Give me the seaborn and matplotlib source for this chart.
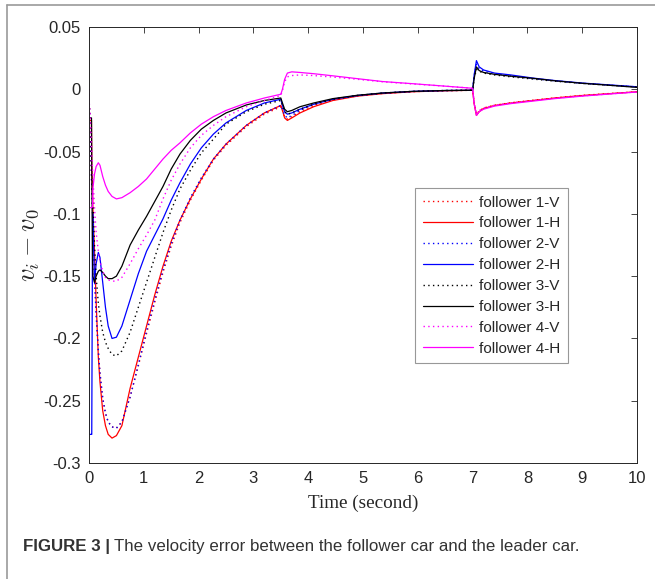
import numpy as np
import pandas as pd
import seaborn as sns
import matplotlib
matplotlib.use("Agg")
import matplotlib.pyplot as plt
from matplotlib.lines import Line2D

# Time grid (s) shared by all followers
time = [0, 0.003, 0.02, 0.045, 0.05, 0.065, 0.07, 0.1, 0.13, 0.17, 0.2, 0.25, 0.3,
        0.35, 0.42, 0.5, 0.6, 0.75, 0.9, 1.05, 1.2, 1.35, 1.5, 1.66, 1.85, 2.05,
        2.27, 2.5, 2.87, 3.2, 3.5, 3.53, 3.57, 3.62, 3.7, 3.85, 4.1, 4.45, 4.9,
        5.36, 5.9, 6.5, 7.0, 7.03, 7.07, 7.12, 7.2, 7.4, 7.7, 8.1, 8.5, 9.0, 9.5, 10]

# Velocity error v_i - v_0 for each follower, vehicle (V) and hybrid (H) models
f1_v = [0, -0.01, -0.03, -0.07, -0.078, -0.1, -0.107, -0.15, -0.18, -0.21, -0.228, -0.248,
        -0.26, -0.267, -0.271, -0.272, -0.267, -0.247, -0.222, -0.196, -0.171, -0.147,
        -0.126, -0.107, -0.089, -0.073, -0.057, -0.045, -0.03, -0.02, -0.014, -0.017,
        -0.022, -0.024, -0.022, -0.018, -0.013, -0.0085, -0.0052, -0.0033, -0.0019,
        -0.0011, -0.0008, -0.011, -0.02, -0.0175, -0.015, -0.0128, -0.0108, -0.0088,
        -0.0069, -0.0049, -0.0034, -0.002]
f1_h = [-0.025, -0.025, -0.025, -0.025, -0.06, -0.085, -0.095, -0.13, -0.17, -0.215,
        -0.235, -0.258, -0.27, -0.277, -0.28, -0.278, -0.27, -0.24, -0.215, -0.19,
        -0.165, -0.142, -0.122, -0.105, -0.088, -0.072, -0.056, -0.044, -0.029, -0.019,
        -0.013, -0.017, -0.023, -0.025, -0.023, -0.019, -0.014, -0.009, -0.0055,
        -0.0035, -0.002, -0.0012, -0.0008, -0.012, -0.021, -0.018, -0.0155, -0.013,
        -0.011, -0.009, -0.007, -0.005, -0.0035, -0.002]
f2_v = [0, -0.01, -0.03, -0.07, -0.078, -0.1, -0.107, -0.15, -0.18, -0.21, -0.228, -0.248,
        -0.26, -0.267, -0.271, -0.272, -0.267, -0.247, -0.221, -0.194, -0.169, -0.145,
        -0.124, -0.105, -0.087, -0.071, -0.056, -0.044, -0.029, -0.019, -0.013, -0.016,
        -0.021, -0.023, -0.021, -0.017, -0.012, -0.008, -0.005, -0.0032, -0.0018,
        -0.001, -0.0008, 0.011, 0.02, 0.0165, 0.0145, 0.0125, 0.0106, 0.0086,
        0.0068, 0.0048, 0.0033, 0.0019]
f2_h = [-0.1, -0.277, -0.277, -0.277, -0.277, -0.1, -0.1, -0.155, -0.14, -0.131, -0.135,
        -0.155, -0.175, -0.19, -0.2, -0.199, -0.19, -0.169, -0.148, -0.13, -0.117,
        -0.104, -0.089, -0.075, -0.06, -0.047, -0.036, -0.027, -0.017, -0.011, -0.008,
        -0.013, -0.018, -0.02, -0.019, -0.016, -0.012, -0.008, -0.005, -0.003,
        -0.0017, -0.001, -0.0008, 0.012, 0.023, 0.018, 0.0155, 0.013, 0.0115, 0.009,
        0.007, 0.005, 0.0035, 0.002]
f3_v = [0, -0.01, -0.025, -0.06, -0.065, -0.085, -0.09, -0.125, -0.15, -0.172, -0.182,
        -0.195, -0.203, -0.208, -0.213, -0.214, -0.21, -0.195, -0.175, -0.155, -0.135,
        -0.115, -0.097, -0.08, -0.065, -0.051, -0.04, -0.028, -0.018, -0.012, -0.009,
        -0.013, -0.018, -0.02, -0.019, -0.016, -0.012, -0.008, -0.005, -0.003,
        -0.0017, -0.001, -0.0008, 0.009, 0.016, 0.0145, 0.013, 0.0115, 0.01, 0.0082,
        0.0065, 0.0047, 0.0032, 0.0018]
f3_h = [-0.023, -0.023, -0.023, -0.023, -0.06, -0.14, -0.15, -0.155, -0.15, -0.146,
        -0.145, -0.147, -0.15, -0.152, -0.152, -0.15, -0.142, -0.125, -0.113, -0.102,
        -0.09, -0.078, -0.064, -0.052, -0.041, -0.032, -0.025, -0.019, -0.0126, -0.009,
        -0.007, -0.011, -0.016, -0.018, -0.017, -0.014, -0.011, -0.0075, -0.0048,
        -0.003, -0.0017, -0.001, -0.0008, 0.009, 0.018, 0.015, 0.0135, 0.012, 0.0105,
        0.0088, 0.0068, 0.0048, 0.0032, 0.0015]
f4_v = [0, -0.01, -0.02, -0.045, -0.05, -0.065, -0.07, -0.095, -0.115, -0.13, -0.138,
        -0.146, -0.151, -0.153, -0.154, -0.154, -0.151, -0.14, -0.128, -0.117, -0.105,
        -0.088, -0.073, -0.06, -0.047, -0.037, -0.029, -0.022, -0.014, -0.009, -0.005,
        -0.001, 0.006, 0.01, 0.011, 0.0115, 0.011, 0.0098, 0.008, 0.006, 0.0043,
        0.0025, 0.0008, -0.011, -0.02, -0.017, -0.015, -0.0128, -0.011, -0.009,
        -0.0072, -0.0053, -0.0037, -0.0021]
f4_h = [0, -0.095, -0.095, -0.095, -0.095, -0.094, -0.08, -0.068, -0.062, -0.059, -0.061,
        -0.07, -0.077, -0.082, -0.086, -0.088, -0.087, -0.083, -0.078, -0.072, -0.064,
        -0.056, -0.049, -0.043, -0.035, -0.028, -0.022, -0.017, -0.011, -0.007, -0.004,
        0.0, 0.008, 0.013, 0.014, 0.0135, 0.0125, 0.0108, 0.0085, 0.0062, 0.0045,
        0.0025, 0.0008, -0.012, -0.021, -0.018, -0.016, -0.0135, -0.0115, -0.0095,
        -0.0075, -0.0055, -0.0038, -0.0022]

labels = ["follower 1-V", "follower 1-H", "follower 2-V", "follower 2-H",
          "follower 3-V", "follower 3-H", "follower 4-V", "follower 4-H"]
series = [f1_v, f1_h, f2_v, f2_h, f3_v, f3_h, f4_v, f4_h]
colors = ["#ff0000", "#ff0000", "#0000ff", "#0000ff",
          "#000000", "#000000", "#ff00ff", "#ff00ff"]

yticks = [-0.3, -0.25, -0.2, -0.15, -0.1, -0.05, 0, 0.05]
ytick_labels = ["-0.3", "-0.25", "-0.2", "-0.15", "-0.1", "-0.05", "0", "0.05"]
xticks = [0, 1, 2, 3, 4, 5, 6, 7, 8, 9, 10]

sns.set_theme(style="white")
plt.rcParams["font.family"] = ["Liberation Sans", "DejaVu Sans"]
plt.rcParams["mathtext.fontset"] = "cm"

fig = plt.figure(figsize=(6.55, 5.79), dpi=100)
ax = fig.add_axes([0.1359, 0.2003, 0.8366, 0.7531])

for lab, vals, col in zip(labels, series, colors):
    dotted = lab.endswith("V")
    sns.lineplot(x=time, y=vals, ax=ax, color=col, label=lab,
                 linewidth=1.0 if dotted else 0.9,
                 linestyle=(0, (1, 2.4)) if dotted else "-")

ax.set_xlim(0, 10)
ax.set_ylim(-0.3, 0.05)
ax.set_xticks(xticks)
ax.set_xticklabels([str(x) for x in xticks])
ax.set_yticks(yticks)
ax.set_yticklabels(ytick_labels)
ax.tick_params(direction="in", length=4, width=0.6, colors="#262626",
               labelsize=12, top=True, right=True, pad=6)
for side in ["left", "right", "top", "bottom"]:
    ax.spines[side].set_visible(True)
    ax.spines[side].set_color("#262626")
    ax.spines[side].set_linewidth(0.7)

ax.set_xlabel("Time (second)", family="Liberation Serif", fontsize=13.8,
              color="#262626", labelpad=6)
ax.set_ylabel(r"$v_i - v_0$", fontsize=19, color="#262626", labelpad=1)

leg = ax.legend(loc="upper left", bbox_to_anchor=(0.595, 0.631), fontsize=11,
                frameon=True, fancybox=False, shadow=False, handlelength=3.3,
                handletextpad=0.4, labelspacing=0.45, borderpad=0.5,
                borderaxespad=0)
leg.get_frame().set_edgecolor("#7f7f7f")
leg.get_frame().set_linewidth(0.8)
for txt in leg.get_texts():
    txt.set_color("#262626")

# Page frame lines (top and left)
fig.add_artist(Line2D([7 / 655, 1.0], [1 - 5 / 579, 1 - 5 / 579],
                      transform=fig.transFigure, color="#9a9a9a", linewidth=1.2))
fig.add_artist(Line2D([7 / 655, 7 / 655], [0, 1 - 5 / 579],
                      transform=fig.transFigure, color="#9a9a9a", linewidth=1.2))

# Caption
cap_y = 1 - 547 / 579
bold = fig.text(23 / 655, cap_y, "FIGURE 3 |", fontsize=12.2, fontweight="bold",
                color="#333333", va="center", family="Liberation Sans")
fig.canvas.draw()
bb = bold.get_window_extent(renderer=fig.canvas.get_renderer())
fig.text(bb.x1 / fig.bbox.width + 4 / 655, cap_y,
         "The velocity error between the follower car and the leader car.",
         fontsize=12.2, color="#333333", va="center", family="Liberation Sans")

fig.savefig("out.png", dpi=100)
